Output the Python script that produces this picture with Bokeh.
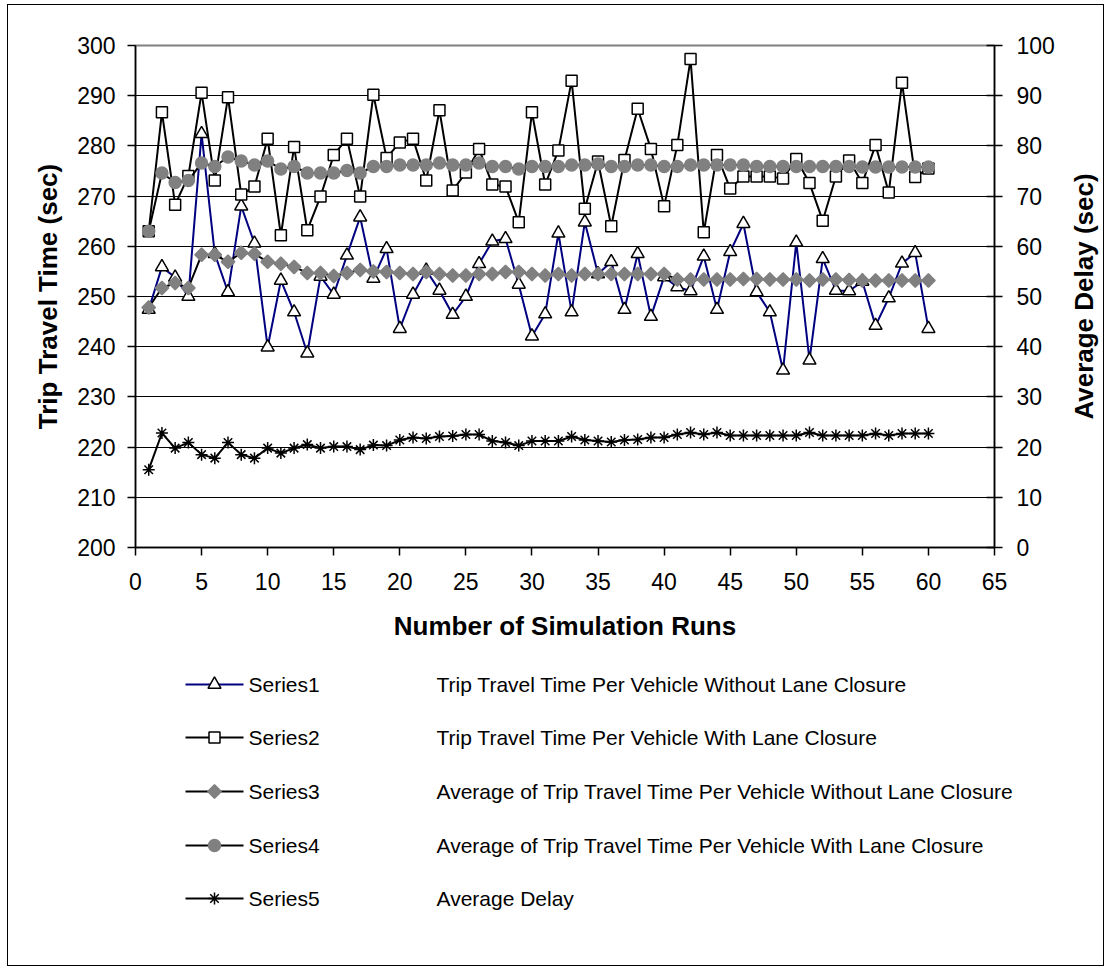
import numpy as np
from bokeh.plotting import figure
from bokeh.models import Range1d, LinearAxis, FixedTicker
from bokeh.layouts import column, row
from bokeh.embed import file_html
from bokeh.resources import INLINE
from bokeh.core.properties import value

# ---------------- data ----------------
runs = list(range(1, 61))

trip_without = [247.4, 255.9, 253.8, 250.0, 282.4, 258.5, 250.9, 268.0, 260.6, 239.9,
                253.2, 246.9, 238.7, 254.0, 250.4, 258.2, 265.8, 253.6, 259.5, 243.6,
                250.4, 255.2, 251.2, 246.4, 250.0, 256.5, 261.0, 261.5, 252.4, 242.1,
                246.5, 262.6, 246.9, 264.8, 254.5, 256.9, 247.4, 258.5, 246.0, 253.9,
                251.9, 251.1, 258.0, 247.4, 258.9, 264.5, 250.9, 246.9, 235.3, 260.8,
                237.3, 257.5, 251.2, 251.1, 253.0, 244.2, 249.7, 256.6, 258.7, 243.6]

trip_with = [263.0, 286.7, 268.3, 274.0, 290.6, 273.1, 289.7, 270.3, 271.9, 281.4,
             262.2, 279.8, 263.2, 269.9, 278.2, 281.4, 269.9, 290.2, 277.6, 280.7,
             281.4, 273.1, 287.1, 271.1, 274.7, 279.4, 272.3, 271.9, 264.8, 286.7,
             272.3, 279.1, 293.0, 267.5, 276.9, 264.0, 277.2, 287.4, 279.4, 268.0,
             280.2, 297.3, 262.8, 278.2, 271.5, 273.9, 273.9, 273.9, 273.5, 277.4,
             272.6, 265.1, 273.9, 277.1, 272.6, 280.2, 270.7, 292.6, 273.8, 275.5]

avg_without = [247.8, 251.7, 252.7, 251.7, 258.3, 258.3, 256.9, 258.7, 258.5, 256.9,
               256.5, 255.9, 254.7, 254.7, 254.1, 254.7, 255.3, 255.0, 254.9, 254.7,
               254.5, 254.9, 254.5, 254.2, 254.2, 254.5, 254.5, 254.9, 254.9, 254.5,
               254.2, 254.5, 254.2, 254.5, 254.5, 254.5, 254.5, 254.5, 254.5, 254.5,
               253.4, 253.4, 253.4, 253.4, 253.4, 253.5, 253.5, 253.4, 253.4, 253.4,
               253.2, 253.4, 253.4, 253.3, 253.2, 253.2, 253.2, 253.2, 253.2, 253.2]

avg_with = [263.0, 274.6, 272.7, 273.1, 276.6, 275.9, 277.8, 277.0, 276.2, 277.0,
            275.4, 275.9, 274.6, 274.6, 274.6, 275.1, 274.6, 275.9, 275.9, 276.2,
            276.2, 276.2, 276.6, 276.2, 276.2, 276.6, 275.9, 275.9, 275.4, 275.9,
            275.9, 275.9, 276.2, 276.2, 276.4, 275.9, 275.9, 276.2, 276.2, 275.9,
            275.9, 276.2, 276.2, 276.2, 276.2, 276.2, 275.9, 275.9, 275.9, 275.9,
            275.9, 275.9, 275.9, 275.9, 275.8, 275.8, 275.8, 275.8, 275.8, 275.8]

avg_delay = [15.5, 22.8, 19.8, 20.9, 18.5, 17.8, 20.9, 18.5, 17.8, 19.8,
             18.8, 19.8, 20.5, 19.8, 20.1, 20.1, 19.5, 20.4, 20.3, 21.4,
             21.9, 21.7, 22.1, 22.2, 22.5, 22.5, 21.2, 20.9, 20.3, 21.2,
             21.2, 21.2, 22.1, 21.4, 21.2, 21.0, 21.4, 21.5, 21.9, 21.9,
             22.5, 22.9, 22.5, 22.9, 22.3, 22.3, 22.3, 22.3, 22.3, 22.3,
             22.9, 22.3, 22.3, 22.3, 22.3, 22.7, 22.3, 22.7, 22.7, 22.7]

x_ticks = list(range(0, 66, 5))
left_ticks = list(range(200, 301, 10))
right_ticks = list(range(0, 101, 10))

series_names = ["Series1", "Series2", "Series3", "Series4", "Series5"]
series_desc = ["Trip Travel Time Per Vehicle Without Lane Closure",
               "Trip Travel Time Per Vehicle With Lane Closure",
               "Average of Trip Travel Time Per Vehicle Without Lane Closure",
               "Average of Trip Travel Time Per Vehicle With Lane Closure",
               "Average Delay"]

x_title = "Number of Simulation Runs"
left_title = "Trip Travel Time (sec)"
right_title = "Average Delay (sec)"

# ---------------- styles ----------------
FONT = "Liberation Sans"
NAVY = "#000080"
GRAY = "#808080"
W = 1095          # inner width of the bordered box
WR = 40           # strip holding the right-hand title
W1 = W - WR
H1 = 645
H2 = 315

styles = [
    dict(line_color=NAVY, marker="triangle", size=13, fill_color="white", mline="black", angle=0.0),
    dict(line_color="black", marker="square", size=11, fill_color="white", mline="black", angle=0.0),
    dict(line_color="black", marker="square", size=9.5, fill_color=GRAY, mline=GRAY, angle=np.pi / 4),
    dict(line_color="black", marker="circle", size=12, fill_color=GRAY, mline=GRAY, angle=0.0),
    dict(line_color="black", marker="asterisk", size=12, fill_color="black", mline="black", angle=0.0),
]

# ---------------- main chart ----------------
p = figure(width=W1, height=H1, x_range=Range1d(0, 65), y_range=Range1d(200, 300),
           output_backend="svg", toolbar_location=None,
           min_border_left=127, min_border_right=W1 - 127 - 859,
           min_border_top=40, min_border_bottom=103)
p.extra_y_ranges = {"delay": Range1d(0, 100)}
p.background_fill_color = "white"
p.border_fill_color = "white"
p.outline_line_color = GRAY
p.outline_line_width = 2

right_axis = LinearAxis(y_range_name="delay")
p.add_layout(right_axis, "right")

p.xaxis[0].ticker = FixedTicker(ticks=x_ticks)
p.yaxis[0].ticker = FixedTicker(ticks=left_ticks)
right_axis.ticker = FixedTicker(ticks=right_ticks)

p.xaxis[0].axis_label = x_title
p.yaxis[0].axis_label = left_title

for ax in [p.xaxis[0], p.yaxis[0], right_axis]:
    ax.major_label_text_font = FONT
    ax.major_label_text_font_size = "23px"
    ax.major_label_text_color = "black"
    ax.axis_label_text_font = FONT
    ax.axis_label_text_font_size = "26px"
    ax.axis_label_text_font_style = "bold"
    ax.axis_label_text_color = "black"
    ax.axis_line_color = "black"
    ax.axis_line_width = 1.5
    ax.major_tick_line_color = "black"
    ax.major_tick_line_width = 1.5
    ax.major_tick_out = 8
    ax.major_tick_in = 0
    ax.minor_tick_out = 0
    ax.minor_tick_in = 0

right_axis.major_tick_in = 8
p.xaxis[0].major_label_standoff = 17
p.xaxis[0].axis_label_standoff = 18
p.yaxis[0].major_label_standoff = 12
p.yaxis[0].axis_label_standoff = 11
right_axis.major_label_standoff = 14

p.xgrid.visible = False
p.ygrid.ticker = FixedTicker(ticks=left_ticks)
p.ygrid.grid_line_color = "black"
p.ygrid.grid_line_width = 1

series = [trip_without, trip_with, avg_without, avg_with, avg_delay]
for i, (vals, st) in enumerate(zip(series, styles)):
    kw = {"y_range_name": "delay"} if i == 4 else {}
    p.line(runs, vals, line_color=st["line_color"], line_width=2, **kw)
    p.scatter(runs, vals, marker=st["marker"], size=st["size"], angle=st["angle"],
              fill_color=st["fill_color"], line_color=st["mline"], line_width=1.5, **kw)

# ---------------- right title strip ----------------
rt = figure(width=WR, height=H1, x_range=Range1d(0, WR), y_range=Range1d(H1, 0),
            output_backend="svg", toolbar_location=None,
            min_border=0, min_border_left=0, min_border_right=0,
            min_border_top=0, min_border_bottom=0)
rt.axis.visible = False
rt.grid.visible = False
rt.outline_line_color = None
rt.background_fill_color = "white"
rt.border_fill_color = "white"
rt.text([20], [291], text=[right_title], angle=np.pi / 2, text_font=value(FONT),
        text_font_size="26px", text_font_style="bold", text_align="center",
        text_baseline="middle", text_color="black")

# ---------------- legend panel ----------------
lg = figure(width=W, height=H2, x_range=Range1d(0, W), y_range=Range1d(H2, 0),
            output_backend="svg", toolbar_location=None,
            min_border=0, min_border_left=0, min_border_right=0,
            min_border_top=0, min_border_bottom=0)
lg.axis.visible = False
lg.grid.visible = False
lg.outline_line_color = None
lg.background_fill_color = "white"
lg.border_fill_color = "white"

for f in (p, rt, lg):
    if "frame_align" in f.properties():
        f.frame_align = False

row_y = [34, 87, 141, 195, 248]
line_x0, line_x1, mark_x, name_x, desc_x = 177, 235, 206, 240, 428

for yy, st, name, desc in zip(row_y, styles, series_names, series_desc):
    lg.line([line_x0, line_x1], [yy, yy], line_color=st["line_color"], line_width=2)
    lg.scatter([mark_x], [yy], marker=st["marker"], size=st["size"], angle=st["angle"],
               fill_color=st["fill_color"], line_color=st["mline"], line_width=1.5)
    lg.text([name_x], [yy], text=[name], text_font=value(FONT), text_font_size="21px",
            text_baseline="middle", text_align="left", text_color="black")
    lg.text([desc_x], [yy], text=[desc], text_font=value(FONT), text_font_size="21px",
            text_baseline="middle", text_align="left", text_color="black")

layout = column(row(p, rt, spacing=0), lg, margin=(4, 0, 0, 7), spacing=0,
                styles={"border": "1px solid black"})

open("out.html", "w").write(file_html(layout, INLINE))
